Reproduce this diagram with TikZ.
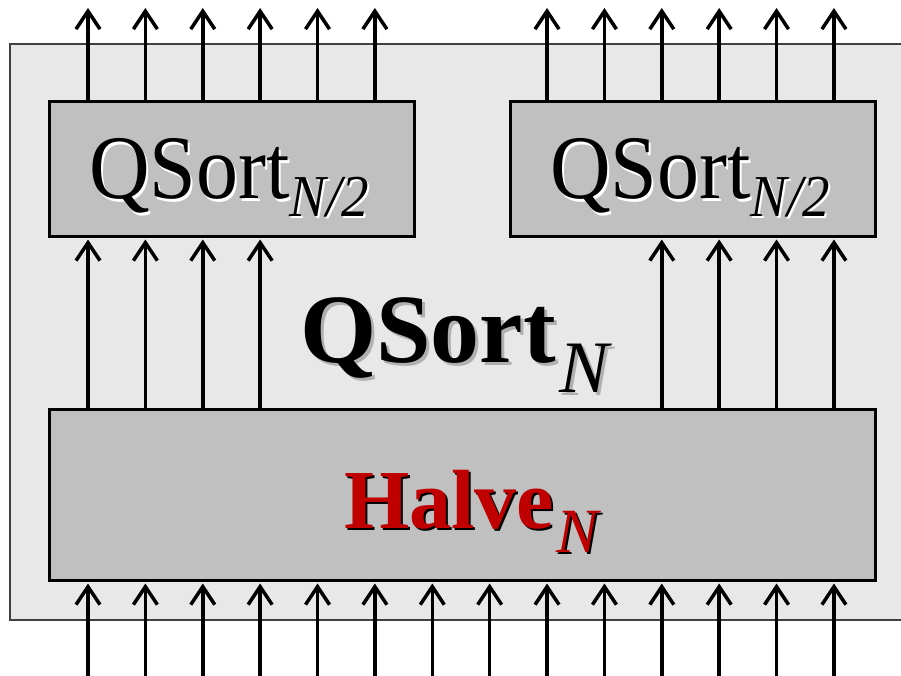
\documentclass[tikz,border=0pt]{standalone}
\usepackage{fontspec}
\setmainfont{Liberation Serif}
\usetikzlibrary{arrows.meta}

\definecolor{outerfill}{HTML}{E8E8E8}
\definecolor{boxfill}{HTML}{C0C0C0}
\definecolor{framegray}{HTML}{404040}
\definecolor{halvered}{HTML}{C00000}
\definecolor{softshadow}{HTML}{B0B0B0}

% text with a drop shadow: #1 offset, #2 shadow colour, #3 text colour, #4 text
\newcommand\shadowed[4]{\leavevmode\rlap{\kern#1\raisebox{-#1}{\color{#2}#4}}{\color{#3}#4}}
% lowered italic index: #1 size, #2 drop, #3 text
\newcommand\lowidx[3]{\raisebox{-#2}{\fontsize{#1}{#1}\selectfont\mdseries\itshape #3}}

\begin{document}
\begin{tikzpicture}[x=1pt,y=-1pt,
  frame/.style={draw=framegray, line width=1.5pt, fill=outerfill, inner sep=0pt},
  block/.style={draw=black, line width=3pt, fill=boxfill, inner sep=0pt},
  wire/.style={line width=3.5pt, -{Straight Barb[length=18pt,width=24pt]}},
  intobox/.style={wire, shorten >=2pt},
  caption/.style={inner sep=0pt, anchor=base west}]

\useasboundingbox (0,0) rectangle (901,676);
\clip (0,0) rectangle (901,676);

% enclosing block, running off the right edge
\node[frame, minimum width=900pt, minimum height=576pt] (outer) at (460,332) {};

% sub-blocks
\node[block, minimum width=365pt, minimum height=134pt] (qa) at (231.5,169) {};
\node[block, minimum width=365pt, minimum height=134pt] (qb) at (692.5,169) {};
\node[block, minimum width=826pt, minimum height=171pt] (halve) at (462,494.5) {};

% labels
\node[caption] (qatext) at (89,199)
  {\scalebox{1}[1.08]{\fontsize{84}{84}\selectfont\shadowed{2pt}{white}{black}{QSort\lowidx{55}{16pt}{N/2}}}};
\node[caption] (qbtext) at (550,199)
  {\scalebox{1}[1.08]{\fontsize{84}{84}\selectfont\shadowed{2pt}{white}{black}{QSort\lowidx{55}{16pt}{N/2}}}};
\node[caption] (qntext) at (300,362)
  {\fontsize{98}{98}\selectfont\bfseries\shadowed{3pt}{softshadow}{black}{QSort\kern3pt\lowidx{74}{30pt}{N}}};
\node[caption] (halvetext) at (344,528)
  {\fontsize{84}{84}\selectfont\bfseries\shadowed{2pt}{black}{halvered}{Halve\kern2pt\lowidx{63}{24pt}{N}}};

% wire columns
\foreach \k in {0,...,13} {\coordinate (col\k) at ({88+57.38*\k},0);}
\coordinate (outtop) at (0,8);
\coordinate (inbot) at (0,680);

% outputs of the two sorters
\foreach \k in {0,...,5} {\draw[wire] (col\k |- qa.north) -- (col\k |- outtop);}
\foreach \k in {8,...,13} {\draw[wire] (col\k |- qb.north) -- (col\k |- outtop);}
% halves fed into the sorters
\foreach \k in {0,...,3} {\draw[intobox] (col\k |- halve.north) -- (col\k |- qa.south);}
\foreach \k in {10,...,13} {\draw[intobox] (col\k |- halve.north) -- (col\k |- qb.south);}
% inputs
\foreach \k in {0,...,13} {\draw[intobox] (col\k |- inbot) -- (col\k |- halve.south);}
\end{tikzpicture}
\end{document}
